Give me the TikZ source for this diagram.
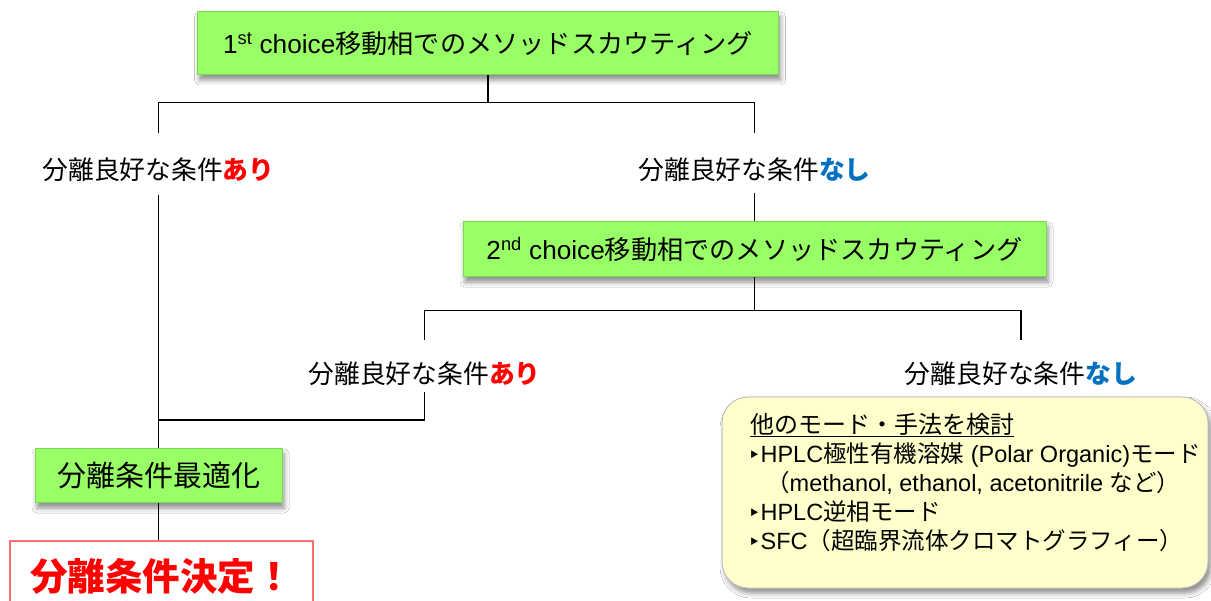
\documentclass[tikz,border=0pt]{standalone}
\usepackage{fontspec}
\setmainfont{Liberation Sans}
\newfontfamily\jp{Noto Sans CJK JP}
\newfontfamily\dv{DejaVu Sans}
\usetikzlibrary{shadows.blur,calc}
\definecolor{bgreen}{RGB}{153,255,102}
\definecolor{bgreenb}{RGB}{125,215,85}
\definecolor{ared}{RGB}{255,0,0}
\definecolor{nblue}{RGB}{0,112,192}
\definecolor{cream}{RGB}{255,255,204}
\definecolor{redb}{RGB}{255,110,110}
\newcommand{\bul}{{\dv\fontsize{21}{24}\selectfont ‣}}
\tikzset{
  gbox/.style={draw=bgreenb, line width=1pt, fill=bgreen, inner sep=0pt,
    blur shadow={shadow xshift=2pt, shadow yshift=-5pt, shadow blur radius=5pt, shadow opacity=45}},
  lbl/.style={inner sep=0pt, font=\jp\fontsize{25.8}{30}\selectfont},
  conn/.style={line width=1.2pt, black},
  oline/.style={anchor=west, inner sep=0pt, font=\fontsize{23.5}{28}\selectfont},
}
\begin{document}
\begin{tikzpicture}[x=1pt,y=-1pt]
\useasboundingbox (0,0) rectangle (1211,601);
\fill[white] (0,0) rectangle (1211,601);

% boxes
\node[gbox, minimum width=581pt, minimum height=63pt, font=\fontsize{26.2}{30}\selectfont] (b1) at (488,43.5)
  {1\textsuperscript{st} choice{\jp 移動相でのメソッドスカウティング}};
\node[gbox, minimum width=583pt, minimum height=55pt, font=\fontsize{26.2}{30}\selectfont] (b2) at (754.5,249.5)
  {2\textsuperscript{nd} choice{\jp 移動相でのメソッドスカウティング}};
\node[gbox, minimum width=247pt, minimum height=54pt, font=\jp\fontsize{29}{32}\selectfont] (b3) at (158.5,476)
  {分離条件最適化};
\node[draw=redb, line width=1.2pt, fill=white, inner sep=0pt, minimum width=303pt, minimum height=70pt,
  text=ared, font=\jp\bfseries\fontsize{37.5}{42}\selectfont] (b4) at (161.5,576) {分離条件決定！};

% labels
\node[lbl] (l1a) at (158.5,170) {分離良好な条件{\bfseries\color{ared}あり}};
\node[lbl] (l1n) at (754.5,170) {分離良好な条件{\bfseries\color{nblue}なし}};
\node[lbl] (l2a) at (424.5,374) {分離良好な条件{\bfseries\color{ared}あり}};
\node[lbl] (l2n) at (1021,374) {分離良好な条件{\bfseries\color{nblue}なし}};

% other modes box
\node[rounded corners=26pt, draw=black!25, line width=1pt, fill=cream, inner sep=0pt,
  minimum width=486pt, minimum height=191pt,
  blur shadow={shadow xshift=3pt, shadow yshift=-5pt, shadow blur radius=5pt, shadow opacity=45}] (b5) at (965,492.5) {};
\node[oline, font=\jp\fontsize{24}{28}\selectfont] (t1) at (750,425) {\underline{他のモード・手法を検討}};
\node[oline] (t2) at (748,455) {\bul HPLC{\jp 極性有機溶媒} (Polar Organic){\jp モード}};
\node[oline] (t3) at (766,483) {{\jp （}methanol, ethanol, acetonitrile {\jp など）}};
\node[oline] (t4) at (748,512) {\bul HPLC{\jp 逆相モード}};
\node[oline] (t5) at (748,541) {\bul SFC{\jp （超臨界流体クロマトグラフィー）}};

% connectors
\coordinate (j1) at ($(b1.south)+(0,27)$);
\coordinate (j2) at ($(b2.south)+(0,33)$);
\coordinate (j3) at (158.5,420);
\coordinate (l1aT) at ($(l1a.center)+(0,-37)$);
\coordinate (l1nT) at ($(l1n.center)+(0,-37)$);
\coordinate (l1aB) at ($(l1a.center)+(0,25)$);
\coordinate (l1nB) at ($(l1n.center)+(0,23)$);
\coordinate (l2aT) at ($(l2a.center)+(0,-34)$);
\coordinate (l2nT) at ($(l2n.center)+(0,-34)$);
\coordinate (l2aB) at ($(l2a.center)+(0,18)$);
\draw[conn] (b1.south) -- (j1);
\draw[conn] (j1) -| (l1aT);
\draw[conn] (j1) -| (l1nT);
\draw[conn] (l1nB) -- (b2.north);
\draw[conn] (l1aB) -- (b3.north);
\draw[conn] (b2.south) -- (j2);
\draw[conn] (j2) -| (l2aT);
\draw[conn] (j2) -| (l2nT);
\draw[conn] (l2aB) |- (j3);
\draw[conn] (b3.south) -- (b3.south |- b4.north);
\end{tikzpicture}
\end{document}
